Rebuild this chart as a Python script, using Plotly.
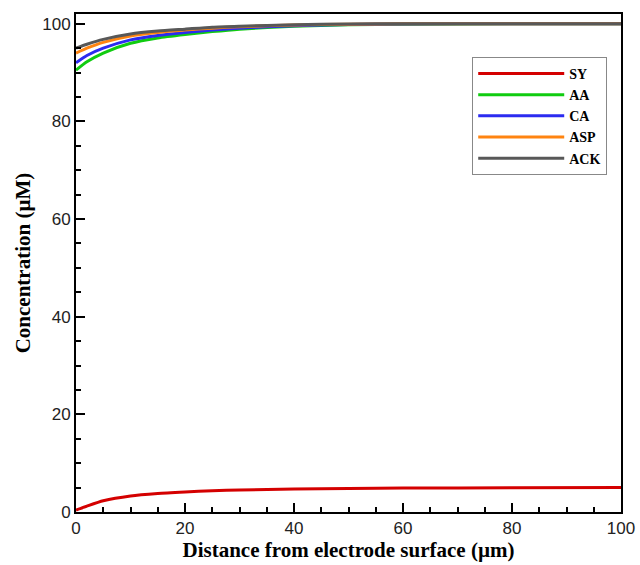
import plotly.graph_objects as go

# Distance from the electrode surface (µm)
distance = [0, 2, 5, 10, 15, 20, 25, 30, 40, 50, 60, 80, 100]

# Concentration profiles (µM)
sy = [0.4, 1.2, 2.3, 3.3, 3.8, 4.1, 4.35, 4.5, 4.7, 4.8, 4.9, 4.95, 5.0]
aa = [90.5, 92.2, 94.0, 96.0, 97.1, 97.8, 98.4, 98.9, 99.5, 99.8, 99.9, 100.0, 100.0]
ca = [92.0, 93.5, 95.0, 96.7, 97.6, 98.2, 98.7, 99.1, 99.6, 99.85, 99.95, 100.0, 100.0]
asp = [94.0, 95.0, 96.2, 97.5, 98.2, 98.7, 99.1, 99.4, 99.75, 99.9, 100.0, 100.0, 100.0]
ack = [95.0, 95.8, 96.8, 97.9, 98.5, 98.9, 99.3, 99.5, 99.8, 99.95, 100.0, 100.0, 100.0]

X_RANGE = [0, 100]
Y_RANGE = [0, 102]

series = [
    ("SY", sy, "#d40000"),
    ("AA", aa, "#10cc10"),
    ("CA", ca, "#2b2bf0"),
    ("ASP", asp, "#ff8410"),
    ("ACK", ack, "#585858"),
]

fig = go.Figure()
for name, vals, color in series:
    fig.add_trace(go.Scatter(
        x=distance, y=vals, name=name, mode="lines",
        line=dict(color=color, width=3, shape="spline", smoothing=0.6),
    ))

title_font = dict(family="Liberation Serif", size=21, color="black", weight="bold")
tick_font = dict(family="Liberation Sans", size=17, color="#222")

# Frame on all four sides, inward ticks on the bottom and left only
axis_common = dict(
    showline=True, linecolor="black", linewidth=2, mirror=True,
    ticks="inside", ticklen=9, tickwidth=2, tickcolor="black",
    showgrid=False, zeroline=False, automargin=False,
    tickfont=tick_font,
    minor=dict(ticks="inside", ticklen=5, tickwidth=1.5, tickcolor="black",
               dtick=5, showgrid=False),
)

fig.update_xaxes(
    range=X_RANGE, tick0=0, dtick=20, **axis_common,
    title=dict(text="Distance from electrode surface (µm)", font=title_font, standoff=4),
)
fig.update_yaxes(
    range=Y_RANGE, tick0=0, dtick=20, **axis_common,
    title=dict(text="Concentration (µM)", font=title_font, standoff=6),
)

fig.update_layout(
    width=640, height=565,
    margin=dict(l=76, r=19, t=14, b=53),
    plot_bgcolor="white", paper_bgcolor="white",
    legend=dict(
        x=0.727, y=0.914, xanchor="left", yanchor="top",
        bgcolor="white", bordercolor="#888", borderwidth=1,
        font=dict(family="Liberation Serif", size=14, color="black", weight="bold"),
        itemwidth=86,
    ),
)

fig.write_html("out.html")
